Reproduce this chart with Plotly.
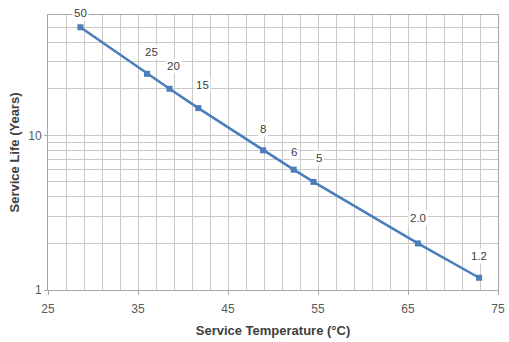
import plotly.graph_objects as go
import math

temps = [28.6, 36.0, 38.5, 41.7, 48.9, 52.3, 54.5, 66.1, 72.9]
life = [50, 25, 20, 15, 8, 6, 5, 2.0, 1.2]
labels = ["50", "25", "20", "15", "8", "6", "5", "2.0", "1.2"]
label_dx = [0, 4, 4, 4, 0, 0, 5, 0, 0]
label_dy = [14, 22, 23, 23, 21, 18, 24, 25, 22]

x_ticks = [25, 35, 45, 55, 65, 75]
y_ticks = [1, 10]
y_minor = [2, 3, 4, 5, 6, 7, 8, 9, 20, 30, 40, 50, 60]

blue = "#4A7EBB"
grid = "#C9C9C9"
fam = "Liberation Sans, Arial, sans-serif"

fig = go.Figure()
fig.add_trace(go.Scatter(
    x=temps, y=life, mode="lines+markers",
    line=dict(color=blue, width=2.5),
    marker=dict(symbol="square", size=6, color=blue),
    showlegend=False, hoverinfo="skip", cliponaxis=False,
))

for xv, yv, t, dx, dy in zip(temps, life, labels, label_dx, label_dy):
    fig.add_annotation(
        x=xv, y=math.log10(yv), text=t, showarrow=False,
        xshift=dx, yshift=dy, bgcolor="white",
        font=dict(family=fam, size=11.5, color="#404040"),
        borderpad=1,
    )

fig.update_layout(
    width=509, height=342,
    margin=dict(l=48, r=11, t=15, b=52, autoexpand=False),
    paper_bgcolor="white", plot_bgcolor="white",
    font=dict(family=fam, size=11, color="#404040"),
)

fig.update_xaxes(
    range=[25, 75], tickvals=x_ticks, automargin=False,
    showgrid=True, gridcolor=grid, gridwidth=1,
    minor=dict(tick0=25, dtick=2, showgrid=True, gridcolor=grid, gridwidth=1),
    showline=True, linecolor="#A6A6A6", mirror=True, linewidth=1,
    ticks="outside", ticklen=4, tickcolor="#A6A6A6",
    ticklabelstandoff=4,
    zeroline=False,
    tickfont=dict(size=12, color="#595959"),
    title=dict(text="<b>Service Temperature (°C)</b>", font=dict(size=13, color="#404040"), standoff=10),
)

fig.update_yaxes(
    type="log", range=[0, math.log10(60)], tickvals=y_ticks, automargin=False,
    showgrid=True, gridcolor=grid, gridwidth=1,
    minor=dict(tickvals=y_minor, showgrid=True, gridcolor=grid, gridwidth=1),
    showline=True, linecolor="#A6A6A6", mirror=True, linewidth=1,
    ticks="outside", ticklen=3, tickcolor="#A6A6A6",
    zeroline=False,
    tickfont=dict(size=12, color="#595959"),
    title=dict(text="<b>Service Life (Years)</b>", font=dict(size=13, color="#404040"), standoff=5),
)

fig.write_html(
    "out.html",
    config={"displayModeBar": False, "staticPlot": True},
    post_script="document.body.style.margin='0';document.body.style.overflow='hidden';",
)
